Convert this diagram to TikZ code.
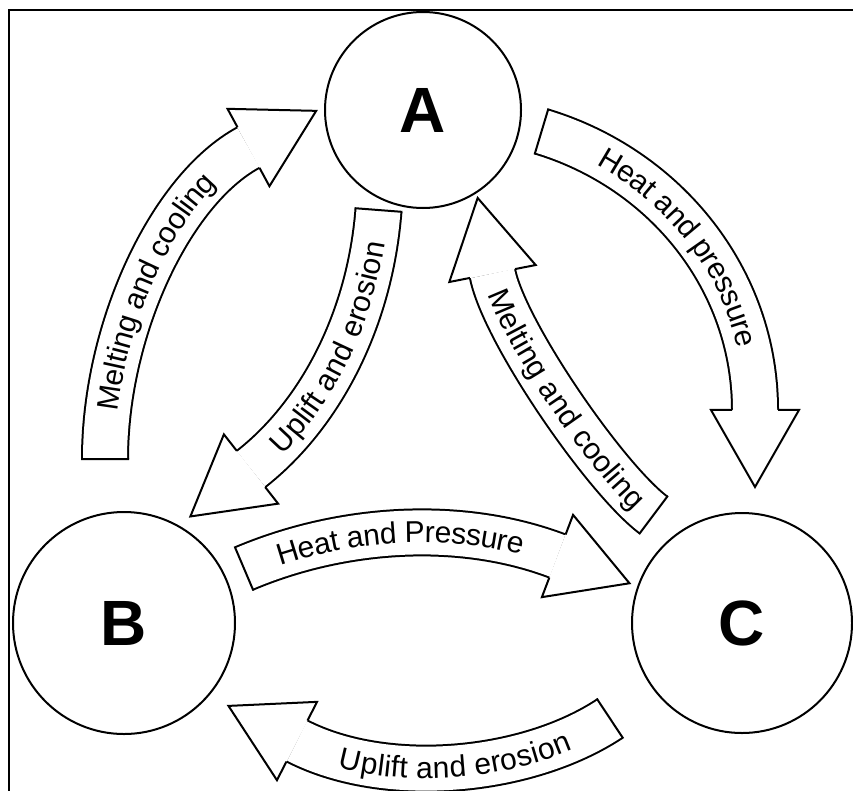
\documentclass[tikz,border=0pt]{standalone}
\usepackage{fontspec}
\setmainfont{Liberation Sans}
\usetikzlibrary{decorations.markings,decorations.text}

\newcommand\bandfont{\fontsize{30}{36}\selectfont}

\begin{document}
\begin{tikzpicture}[x=1pt, y=-1pt,
  rock/.style={circle, draw, line width=2pt, minimum size=#1, inner sep=0pt,
    font=\fontsize{64}{70}\selectfont\bfseries},
  band/.style={preaction={draw, line width=2pt, double=white, double distance=44pt}},
  headend/.style={postaction={decorate, decoration={markings,
    mark=at position 0 with {\draw[line width=2pt] (0pt,-24pt) -- (0pt,24pt);},
    mark=at position 0.9999 with {\filldraw[fill=white, line width=2pt]
      (0pt,23pt) -- (0pt,44pt) -- (77pt,0pt) -- (0pt,-44pt) -- (0pt,-23pt);}}}},
  headstart/.style={postaction={decorate, decoration={markings,
    mark=at position 0 with {\filldraw[fill=white, line width=2pt]
      (0pt,23pt) -- (0pt,44pt) -- (-77pt,0pt) -- (0pt,-44pt) -- (0pt,-23pt);},
    mark=at position 0.9999 with {\draw[line width=2pt] (0pt,-24pt) -- (0pt,24pt);}}}},
  bandtext/.style={postaction={decorate, decoration={text along path,
    text align=center, raise=-10pt, text={|\bandfont|#1}}}}]

  \useasboundingbox (0,0) rectangle (853,790);
  \clip (0,0) rectangle (853,790);

  % frame
  \draw[line width=2pt] (9,900) -- (9,10) -- (900,10);

  % rocks
  \node[rock=196pt] (A) at (423,110) {A};
  \node[rock=222pt] (B) at (124,623) {B};
  \node[rock=220pt] (C) at (742,623) {C};

  % ends of the arrows
  \coordinate (ba tail) at (105,459);
  \coordinate (ba head) at (248.5,147.5);
  \coordinate (ab head) at (251,469);
  \coordinate (ab tail) at (378.5,210);
  \coordinate (ac tail) at (541.5,131.5);
  \coordinate (ac head) at (755,410);
  \coordinate (ca head) at (492.5,273.5);
  \coordinate (ca tail) at (653.5,515);
  \coordinate (bc tail) at (244,568.5);
  \coordinate (bc head) at (557.5,556);
  \coordinate (cb head) at (297,741);
  \coordinate (cb tail) at (610,718.5);

  % arrows
  \path[band, headend, bandtext=Melting and cooling]
    (ba tail) .. controls (105,330) and (170,190) .. (ba head);
  \path[band, headstart, bandtext=Uplift and erosion]
    (ab head) .. controls (320,415) and (370,320) .. (ab tail);
  \path[band, headend, bandtext=Heat and pressure]
    (ac tail) .. controls (666,169) and (755,280) .. (ac head);
  \path[band, headstart, bandtext=Melting and cooling]
    (ca head) .. controls (504,332) and (605.5,479) .. (ca tail);
  \path[band, headend, bandtext=Heat and Pressure]
    (bc tail) .. controls (340.6,527.5) and (459.3,518.8) .. (bc head);
  \path[band, headstart, bandtext=Uplift and erosion]
    (cb head) .. controls (386,786.6) and (527,773.5) .. (cb tail);
\end{tikzpicture}
\end{document}
